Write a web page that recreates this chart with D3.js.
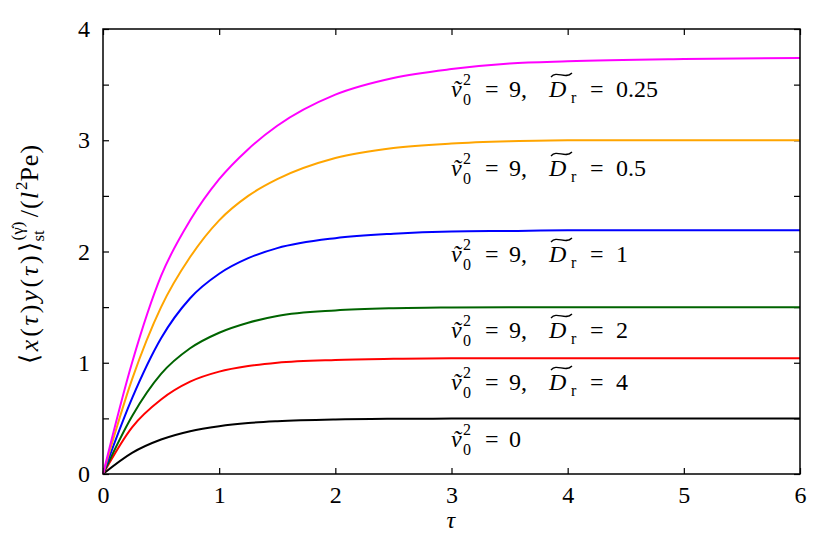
<!DOCTYPE html>
<html><head><meta charset="utf-8">
<script src="https://cdn.jsdelivr.net/npm/d3@7"></script>
<style>
body{margin:0;background:#fff}
</style>
</head><body>
<svg id="chart" width="840" height="540" font-family="Liberation Serif"></svg>
<script>
// ---- data ----
const tau     = [0, 0.25, 0.5, 0.75, 1, 1.25, 1.5, 2, 2.5, 3, 3.5, 4, 5, 6];
const v0sq0   = [0, 0.19, 0.31, 0.385, 0.43, 0.458, 0.474, 0.49, 0.496, 0.498, 0.5, 0.5, 0.5, 0.5];
const dr4     = [0, 0.42, 0.67, 0.83, 0.92, 0.97, 1.0, 1.025, 1.035, 1.04, 1.04, 1.04, 1.04, 1.04];
const dr2     = [0, 0.52, 0.9, 1.13, 1.27, 1.36, 1.42, 1.47, 1.49, 1.497, 1.5, 1.5, 1.5, 1.5];
const dr1     = [0, 0.68, 1.22, 1.58, 1.8, 1.94, 2.03, 2.12, 2.16, 2.18, 2.185, 2.19, 2.19, 2.19];
const dr05    = [0, 0.85, 1.5, 1.95, 2.28, 2.5, 2.65, 2.84, 2.93, 2.97, 2.99, 3.0, 3.0, 3.0];
const dr025   = [0, 1.0, 1.78, 2.28, 2.65, 2.92, 3.13, 3.41, 3.56, 3.64, 3.69, 3.71, 3.73, 3.74];
const drLabels     = [null, "4", "2", "1", "0.5", "0.25"];
const seriesColors = ["#000000", "#ff0000", "#006400", "#0000ff", "#ffa500", "#ff00ff"];
const xTicks = [0, 1, 2, 3, 4, 5, 6];
const yTicks = [0, 0.5, 1, 1.5, 2, 2.5, 3, 3.5, 4];
const yTickLabels = [0, 1, 2, 3, 4];
const xLabel = "τ";

// ---- layout ----
const W = 840, H = 540;
const m = {left: 103, right: 40, top: 29, bottom: 66};
const svg = d3.select("#chart");
const x = d3.scaleLinear().domain([0, 6]).range([m.left, W - m.right]);
const y = d3.scaleLinear().domain([0, 4]).range([H - m.bottom, m.top]);
const values = [v0sq0, dr4, dr2, dr1, dr05, dr025];
const FONT = "Liberation Serif";
const fs = 24;

// axes (ticks inward)
const gB = svg.append("g").attr("transform", `translate(0,${y(0)})`)
  .call(d3.axisBottom(x).tickValues(xTicks).tickSize(-6).tickPadding(12).tickFormat(d3.format("d")));
const gT = svg.append("g").attr("transform", `translate(0,${y(4)})`)
  .call(d3.axisTop(x).tickValues(xTicks).tickSize(-6).tickFormat(""));
const gL = svg.append("g").attr("transform", `translate(${x(0)},0)`)
  .call(d3.axisLeft(y).tickValues(yTicks).tickSize(-6).tickPadding(13)
    .tickFormat(d => yTickLabels.includes(d) ? d3.format("d")(d) : ""));
const gR = svg.append("g").attr("transform", `translate(${x(6)},0)`)
  .call(d3.axisRight(y).tickValues(yTicks).tickSize(-6).tickFormat(""));
[gB, gT, gL, gR].forEach(g => {
  g.attr("font-family", null).attr("font-size", fs);
  g.select(".domain").remove();
  g.selectAll(".tick line").attr("stroke", "#000").attr("stroke-width", 1.2);
  g.selectAll("text").attr("fill", "#000").attr("font-family", FONT).attr("font-size", fs);
});

// curves
const line = d3.line().x((d, i) => x(tau[i])).y(d => y(d)).curve(d3.curveMonotoneX);
svg.append("g").selectAll("path").data(values).join("path")
  .attr("d", d => line(d)).attr("fill", "none")
  .attr("stroke", (d, i) => seriesColors[i]).attr("stroke-width", 2);

// frame
svg.append("rect").attr("x", x(0)).attr("y", y(4)).attr("width", x(6) - x(0)).attr("height", y(0) - y(4))
  .attr("fill", "none").attr("stroke", "#000").attr("stroke-width", 1.5);

// curve labels
const labelBase = [447, 390, 338, 262, 176, 97];
function txt(g, s, px, py, size, italic) {
  return g.append("text").attr("x", px).attr("y", py)
    .attr("font-family", FONT).attr("font-size", size)
    .attr("font-style", italic ? "italic" : "normal").text(s);
}
const lg = svg.append("g");
drLabels.forEach((dr, i) => {
  const b = labelBase[i], x0 = 451;
  txt(lg, "v\u0303", x0, b, fs, true);
  txt(lg, "2", x0 + 12, b - 12, 16, false);
  txt(lg, "0", x0 + 12, b + 8, 16, false);
  txt(lg, "=", x0 + 34, b, fs, false);
  if (dr === null) {
    txt(lg, "0", x0 + 58, b, fs, false);
  } else {
    txt(lg, "9,", x0 + 58, b, fs, false);
    txt(lg, "D", x0 + 98, b, fs, true);
    lg.append("path")
      .attr("d", `M${x0 + 100},${b - 20} C${x0 + 106},${b - 27} ${x0 + 114},${b - 17} ${x0 + 121},${b - 24}`)
      .attr("fill", "none").attr("stroke", "#000").attr("stroke-width", 1.3);
    txt(lg, "r", x0 + 120, b + 6, 16, false);
    txt(lg, "=", x0 + 139, b, fs, false);
    txt(lg, dr, x0 + 165, b, fs, false);
  }
});

// x axis label
txt(svg, xLabel, x(3) - 5, 528, fs, true);

// y axis label (rotated), one text element with tspans
const yl = svg.append("text").attr("transform", "translate(38,364) rotate(-90)")
  .attr("font-family", FONT).attr("font-size", 26);
const ls = 2.8;
const parts = [
  {t: "\u27E8", l: ls}, {t: "x", i: 1, l: ls}, {t: "(", l: ls}, {t: "τ", i: 1, l: ls}, {t: ")", l: ls},
  {t: "y", i: 1, l: ls}, {t: "(", l: ls}, {t: "τ", i: 1, l: ls}, {t: ")", l: ls}, {t: "\u27E9"},
  {t: "(γ\u0307)", s: 17, dy: -15, dx: 2},
  {t: "st", s: 17, dy: 21, dx: -20},
  {t: "/(", dy: -6, dx: 13, l: 1},
  {t: "l", i: 1, l: 1},
  {t: "2", s: 17, dy: -11, dx: 1},
  {t: "Pe)", dy: 11, l: 1}
];
parts.forEach(p => {
  const ts = yl.append("tspan").text(p.t);
  if (p.i) ts.attr("font-style", "italic");
  if (p.s) ts.attr("font-size", p.s);
  if (p.dy) ts.attr("dy", p.dy);
  if (p.dx) ts.attr("dx", p.dx);
  if (p.l) ts.attr("letter-spacing", p.l);
});
</script>
</body></html>
